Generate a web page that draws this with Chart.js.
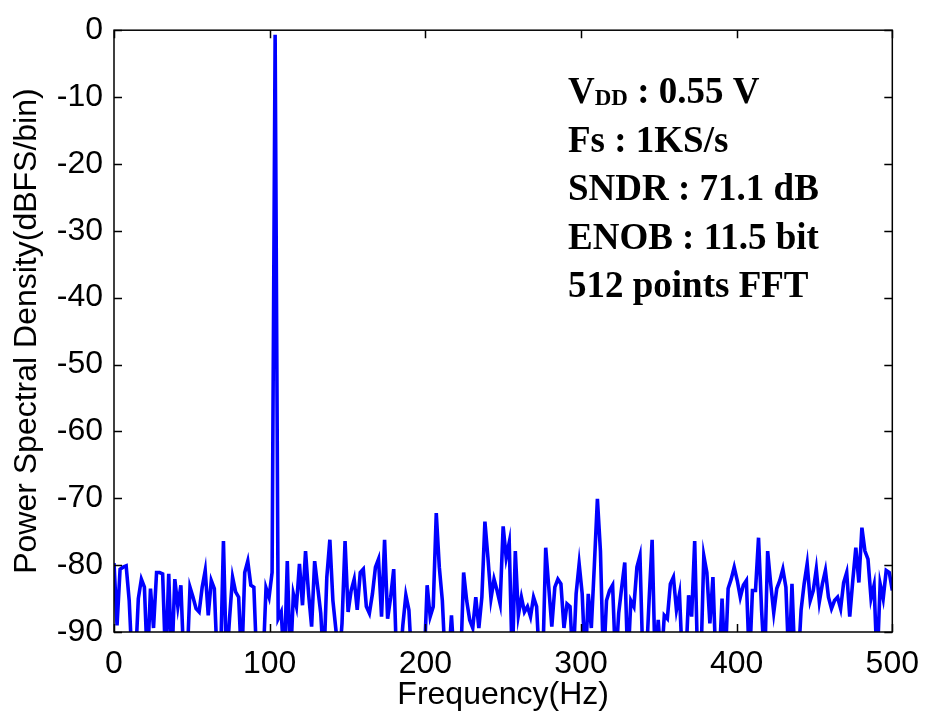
<!DOCTYPE html>
<html>
<head>
<meta charset="utf-8">
<title>PSD</title>
<script src="https://cdn.jsdelivr.net/npm/chart.js@4.4.1/dist/chart.umd.min.js"></script>
<style>
  html, body { margin: 0; padding: 0; background: #fff; }
  #psdChart { display: block; }
</style>
</head>
<body>
<canvas id="psdChart" width="932" height="719"></canvas>
<script>
// FFT setup
const FS = 1000;
const NFFT = 512;

// Power spectral density per bin (dBFS/bin), bins 0..256
const psd = [
  -79.7, -89, -80.6, -80.3, -80.1, -85.3, -95, -95, -85, -82.1,
  -83.3, -95, -83.5, -89.4, -81.1, -81.1, -81.3, -95, -81.3, -95,
  -82.1, -86.2, -83, -95, -95, -83.3, -84.8, -86.5, -87, -83.3,
  -80.8, -87.5, -82.3, -83.5, -95, -95, -76.4, -95, -88, -81.8,
  -84, -84.8, -95, -81.1, -79.4, -83, -83.3, -95, -95, -95,
  -83.4, -84.8, -81.1, -0.7, -88, -87, -95, -79.4, -95, -84.3,
  -86.2, -79.8, -86, -77.9, -84.3, -89.2, -79.4, -83.3, -87.2, -95,
  -81.8, -76.2, -85.3, -89.7, -95, -88.7, -76.4, -87, -83.8, -82.1,
  -86.7, -81.1, -80.6, -86.2, -87.2, -84.3, -80.3, -79.1, -87.7, -76.2,
  -88, -84.8, -80.6, -95, -95, -89, -84.5, -86.7, -95, -95,
  -95, -95, -95, -83, -87.7, -86.2, -72.2, -80.3, -85.3, -95,
  -95, -87.5, -95, -95, -95, -81.1, -85.3, -88.2, -89.4, -84.8,
  -89.4, -84.8, -73.5, -78.9, -85, -82.1, -83.8, -85.8, -74.2, -78.9,
  -76.6, -95, -77.9, -87.5, -84.8, -87, -86.2, -87.7, -84.8, -86.2,
  -95, -95, -77.4, -83.3, -89.2, -83.3, -82.1, -82.8, -89.4, -85.8,
  -86.2, -95, -84.3, -79.8, -84.3, -95, -84.3, -89.4, -80, -70.1,
  -77.9, -95, -85.3, -83.8, -83, -95, -87.2, -83.3, -79.6, -95,
  -85.3, -86.2, -80.3, -78.6, -95, -95, -85.3, -76.2, -95, -88.2,
  -95, -87.5, -88, -82.8, -81.8, -86.7, -84.3, -95, -95, -84.5,
  -87.7, -76.4, -95, -95, -78.6, -81.1, -88.7, -81.8, -95, -95,
  -85, -95, -83.5, -82.1, -80.3, -82.3, -84.8, -83, -82.3, -95,
  -83.8, -83.8, -75.9, -86.7, -95, -77.9, -82.8, -87.1, -83.5, -82.3,
  -80.6, -83.3, -95, -82.8, -95, -95, -86.7, -82.8, -79.8, -85.3,
  -83.8, -80.6, -85.5, -82.8, -80.8, -84.8, -86.5, -85.3, -84.8, -86.5,
  -82.6, -81.1, -87.7, -82.3, -77.4, -82.6, -74.4, -77.9, -79.1, -85,
  -83, -95, -82.8, -85, -80.8, -81.1, -83.8
];

// Axis ticks
const freqTicks = [0, 100, 200, 300, 400, 500];
const dbTicks = [-90, -80, -70, -60, -50, -40, -30, -20, -10, 0];

// Measurement notes shown in the plot
const specLines = [
  { main: 'V', sub: 'DD', rest: ' : 0.55 V' },
  { main: 'Fs : 1KS/s' },
  { main: 'SNDR : 71.1 dB' },
  { main: 'ENOB : 11.5 bit' },
  { main: '512 points FFT' }
];

const sansFont = '"Liberation Sans", Arial, Helvetica, sans-serif';
const serifFont = '"Liberation Serif", "Times New Roman", serif';

// Box around the axes with MATLAB-style inward ticks
const framePlugin = {
  id: 'frame',
  afterDatasetsDraw(chart) {
    const { ctx, chartArea: a, scales: { x, y } } = chart;
    const len = 8;
    ctx.save();
    ctx.strokeStyle = '#000';
    ctx.lineWidth = 1.5;
    ctx.beginPath();
    freqTicks.forEach(v => {
      const px = Math.round(x.getPixelForValue(v)) + 0.5;
      ctx.moveTo(px, a.bottom); ctx.lineTo(px, a.bottom - len);
      ctx.moveTo(px, a.top); ctx.lineTo(px, a.top + len);
    });
    dbTicks.forEach(v => {
      const py = Math.round(y.getPixelForValue(v)) + 0.5;
      ctx.moveTo(a.left, py); ctx.lineTo(a.left + len, py);
      ctx.moveTo(a.right, py); ctx.lineTo(a.right - len, py);
    });
    ctx.stroke();
    ctx.strokeRect(a.left, a.top, a.right - a.left, a.bottom - a.top);
    ctx.restore();
  }
};

// Text block with supply, sample rate and FFT figures
const specsPlugin = {
  id: 'specs',
  afterDraw(chart) {
    const { ctx } = chart;
    const left = 568;
    const top = 103;
    const step = 48.5;
    ctx.save();
    ctx.fillStyle = '#000';
    ctx.textBaseline = 'alphabetic';
    ctx.textAlign = 'left';
    specLines.forEach((line, i) => {
      const base = top + i * step;
      let cx = left;
      ctx.font = 'bold 37px ' + serifFont;
      ctx.fillText(line.main, cx, base);
      cx += ctx.measureText(line.main).width;
      if (line.sub) {
        ctx.font = 'bold 23px ' + serifFont;
        ctx.fillText(line.sub, cx, base + 2);
        cx += ctx.measureText(line.sub).width;
        ctx.font = 'bold 37px ' + serifFont;
        ctx.fillText(line.rest, cx, base);
      }
    });
    ctx.restore();
  }
};

document.addEventListener('DOMContentLoaded', () => {
  const points = psd.map((v, k) => ({ x: k * FS / NFFT, y: v }));

  new Chart(document.getElementById('psdChart'), {
    type: 'line',
    data: {
      datasets: [{
        data: points,
        borderColor: '#0000ff',
        borderWidth: 3.6,
        pointRadius: 0,
        tension: 0,
        fill: false,
        clip: 0
      }]
    },
    options: {
      responsive: false,
      animation: false,
      events: [],
      layout: { padding: { top: 22, right: 38, left: 0, bottom: 0 } },
      plugins: {
        legend: { display: false },
        tooltip: { enabled: false }
      },
      scales: {
        x: {
          type: 'linear',
          min: 0,
          max: 500,
          afterFit: s => { s.height = 87; },
          afterBuildTicks: s => { s.ticks = freqTicks.map(v => ({ value: v })); },
          grid: { display: false, drawTicks: false },
          border: { display: false },
          ticks: {
            color: '#000',
            padding: 13,
            maxRotation: 0,
            font: { family: sansFont, size: 32 }
          },
          title: {
            display: true,
            text: 'Frequency(Hz)',
            color: '#000',
            font: { family: sansFont, size: 32 },
            padding: { top: 0, bottom: 5 }
          }
        },
        y: {
          type: 'linear',
          min: -90,
          max: 0,
          afterFit: s => { s.width = 114; },
          afterBuildTicks: s => { s.ticks = dbTicks.map(v => ({ value: v })); },
          grid: { display: false, drawTicks: false },
          border: { display: false },
          ticks: {
            color: '#000',
            padding: 11,
            font: { family: sansFont, size: 32 }
          },
          title: {
            display: true,
            text: 'Power Spectral Density(dBFS/bin)',
            color: '#000',
            font: { family: sansFont, size: 32 },
            padding: { top: 8, bottom: 0 }
          }
        }
      }
    },
    plugins: [framePlugin, specsPlugin]
  });
});
</script>
</body>
</html>
